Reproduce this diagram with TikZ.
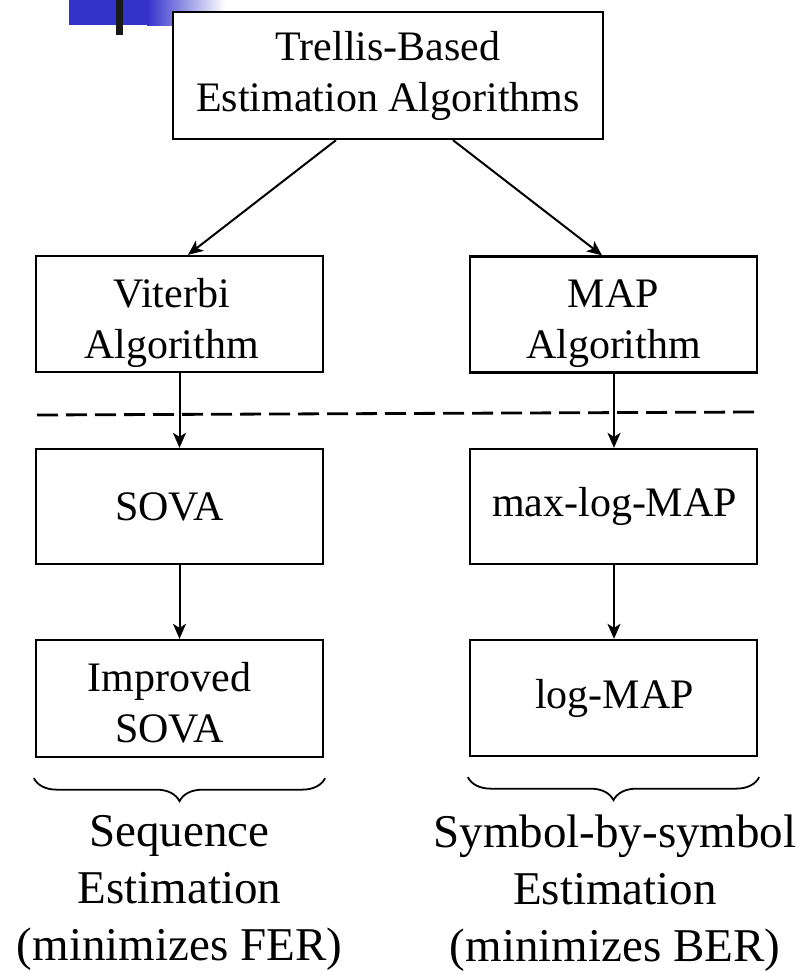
\documentclass[tikz,border=0pt]{standalone}
\usepackage{fontspec}
\setmainfont{Liberation Serif}
\usetikzlibrary{arrows.meta,decorations.pathreplacing,calc}

\begin{document}
\begin{tikzpicture}[x=1pt,y=-1pt,
  box/.style={draw, line width=2.3pt, minimum width=287pt, minimum height=116pt, inner sep=0pt},
  btext/.style={font=\fontsize{42}{51}\selectfont, align=center, inner sep=0pt},
  ltext/.style={font=\fontsize{47}{57}\selectfont, align=center, inner sep=0pt, anchor=north},
  arr/.style={-{Stealth[length=15pt,width=13pt,inset=4pt]}, line width=2pt},
  brc/.style={decorate, decoration={brace, mirror, amplitude=23pt}, line width=1.8pt},
]
\useasboundingbox (0,0) rectangle (804,971);

% slide-template corner ornament
\definecolor{slideblue}{RGB}{51,51,204}
\fill[slideblue] (69,0) rectangle (147,25);
\shade[left color=slideblue, right color=white] (147,0) rectangle (225,26);
\fill[black!90] (116,0) rectangle (123,35);

% boxes
\node[box, minimum width=430pt, minimum height=127pt, fill=white] (top) at (388,75.5) {};
\node[btext] (topt) at (top.center) {Trellis-Based\\Estimation Algorithms};

\node[box] (vit) at (179.5,314) {};
\node[btext] (vitt) at ([xshift=-8pt,yshift=-9pt]vit.center) {Viterbi\\Algorithm};
\node[box] (map) at (613.5,314.5) {};
\node[btext] (mapt) at ([yshift=-8.7pt]map.center) {MAP\\Algorithm};

\node[box, minimum height=115pt] (sova) at (179.5,506.5) {};
\node[btext] (sovat) at ([xshift=-10pt]sova.center) {SOVA};
\node[box, minimum height=115pt] (mlm) at (613.5,506.5) {};
\node[btext] (mlmt) at ([xshift=1pt]mlm.center) {max-log-MAP};

\node[box, minimum height=117pt] (isova) at (179.5,698.5) {};
\node[btext] (isovat) at ([xshift=-10pt,yshift=-4pt]isova.center) {Improved\\SOVA};
\node[box] (lmap) at (613.5,698) {};
\node[btext] (lmapt) at ([xshift=1pt]lmap.center) {log-MAP};

% connectors
\draw[arr] ([xshift=-52pt]top.south) -- ([xshift=8.5pt]vit.north);
\draw[arr] ([xshift=65pt]top.south) -- ([xshift=-11.5pt]map.north);
\draw[arr] (vit.south) -- (sova.north);
\draw[arr] ([xshift=0.5pt]map.south) -- ([xshift=0.5pt]mlm.north);
\draw[arr] (sova.south) -- (isova.north);
\draw[arr] ([xshift=0.5pt]mlm.south) -- ([xshift=0.5pt]lmap.north);

% dashed separator
\coordinate (dl) at (37,415);
\coordinate (dr) at (757,412);
\draw[line width=2.8pt, dash pattern=on 21pt off 8pt] (dl) -- (dr);

% braces and their captions
\draw[brc] ([xshift=-1pt,yshift=-20pt]isova.south west) -- ([xshift=1pt,yshift=-20pt]isova.south east);
\draw[brc] ([xshift=-1pt,yshift=-20pt]lmap.south west) -- ([xshift=1pt,yshift=-20pt]lmap.south east);

\node[ltext] (seq) at ([yshift=-57.5pt]isova.south) {Sequence\\Estimation\\(minimizes FER)};
\node[ltext] (sym) at ([xshift=1.5pt,yshift=-58pt]lmap.south) {Symbol-by-symbol\\Estimation\\(minimizes BER)};
\end{tikzpicture}
\end{document}
